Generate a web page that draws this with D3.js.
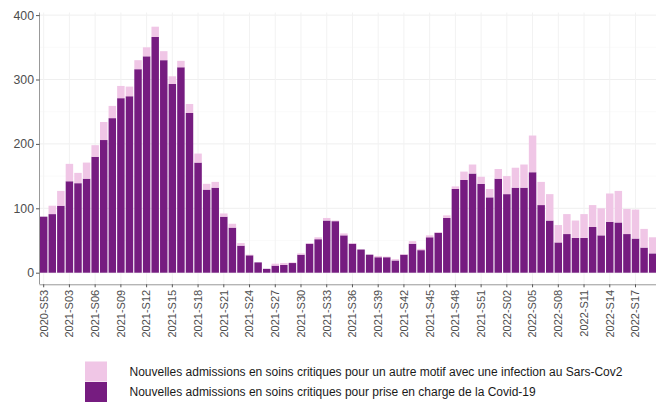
<!DOCTYPE html>
<html><head><meta charset="utf-8">
<script src="https://cdn.jsdelivr.net/npm/d3@7"></script>
<style>html,body{margin:0;padding:0;background:#fff;}svg{display:block;font-family:"Liberation Sans",Arial,sans-serif;}</style>
</head><body><svg id="c" width="656" height="403"></svg>
<script>
const weeks = ["2020-S53"].concat(
  d3.range(1,53).map(i=>"2021-S"+String(i).padStart(2,"0")),
  d3.range(1,20).map(i=>"2022-S"+String(i).padStart(2,"0")));
const covid = [87,91,104,142,139,146,180,206,240,271,274,316,336,366,330,293,319,248,171,129,132,87,70,42,
  27,16,6,11,12,15,28,45,52,81,80,58,45,36,28,24,24,19,28,45,35,55,62,85,130,144,154,138,117,
  146,122,132,132,156,105,81,47,60,54,54,71,58,79,78,60,53,39,30];
const other = [0,13,23,27,16,25,18,28,19,19,15,14,14,16,14,12,10,14,14,9,9,5,6,4,
  1,0,0,3,3,1,2,1,3,4,1,3,1,0,0,2,1,2,1,4,2,3,1,4,4,13,14,11,13,
  15,28,31,36,57,36,41,27,31,27,37,34,42,44,49,39,45,29,25];
const otherLabel = "Nouvelles admissions en soins critiques pour un autre motif avec une infection au Sars-Cov2";
const covidLabel = "Nouvelles admissions en soins critiques pour prise en charge de la Covid-19";
const yTicks = [0,100,200,300,400];
const tickWeeks = weeks.filter((d,i)=>i%3===0);
const colCovid = "#761c80", colOther = "#f0c6e6";

const svg = d3.select("#c");
const step = 8.577;
const x = d3.scaleBand().domain(weeks).range([39.4, 39.4+weeks.length*step]).paddingInner(0.13).paddingOuter(0.065);
const y = d3.scaleLinear().domain([0,400]).range([272.7,15.1]);
const yBottom = y(-18), yTop = y(404);

// gridlines
const g = svg.append("g");
g.selectAll(".hm").data(d3.range(50,400,100)).join("line")
  .attr("x1",39.5).attr("x2",656).attr("y1",d=>y(d)).attr("y2",d=>y(d)).attr("stroke","#f6f6f6").attr("stroke-width",0.6);
g.selectAll(".hM").data(yTicks).join("line")
  .attr("x1",39.5).attr("x2",656).attr("y1",d=>y(d)).attr("y2",d=>y(d)).attr("stroke","#efefef").attr("stroke-width",1);
g.selectAll(".v").data(tickWeeks).join("line")
  .attr("x1",d=>x(d)+x.bandwidth()/2).attr("x2",d=>x(d)+x.bandwidth()/2).attr("y1",yTop).attr("y2",yBottom).attr("stroke","#f2f2f2").attr("stroke-width",1);

// stacked bars
const data = weeks.map((w,i)=>({week:w, covid:covid[i], other:other[i]}));
const stack = d3.stack().keys(["covid","other"])(data);
const colors = {covid:colCovid, other:colOther};
svg.append("g").selectAll("g").data(stack).join("g").attr("fill",d=>colors[d.key])
  .selectAll("rect").data(d=>d).join("rect")
  .attr("x",d=>x(d.data.week)).attr("width",x.bandwidth())
  .attr("y",d=>y(d[1])).attr("height",d=>Math.max(0,y(d[0])-y(d[1])));

// y axis
const ya = svg.append("g").attr("transform","translate(39.5,0)")
  .call(d3.axisLeft(y).tickValues(yTicks).tickSize(3.5).tickPadding(2));
ya.select(".domain").attr("d",`M0,${yTop}V${yBottom}`).attr("stroke","#999");
ya.selectAll(".tick line").attr("stroke","#555");
ya.selectAll("text").attr("fill","#4d4d4d").attr("font-size",12.3).attr("font-family","Liberation Sans, Arial, sans-serif");

// x axis
const xa = svg.append("g").attr("transform",`translate(0,${yBottom})`)
  .call(d3.axisBottom(x).tickValues(tickWeeks).tickSize(3).tickPadding(2));
xa.select(".domain").attr("d",`M39.5,0.5H656`).attr("stroke","#999");
xa.selectAll(".tick line").attr("stroke","#555");
xa.selectAll("text").attr("fill","#4d4d4d").attr("font-size",11).attr("font-family","Liberation Sans, Arial, sans-serif")
  .attr("transform","rotate(-90)").attr("text-anchor","end").attr("x",-5.5).attr("y",0).attr("dy","0.35em");

// legend
const leg = svg.append("g");
const items = [{label:otherLabel, color:colOther},{label:covidLabel, color:colCovid}];
leg.selectAll("rect").data(items).join("rect")
  .attr("x",85).attr("y",(d,i)=>361.5+i*20.5).attr("width",22).attr("height",20).attr("fill",d=>d.color);
leg.selectAll("text").data(items).join("text")
  .attr("x",129.5).attr("y",(d,i)=>371.5+i*20.5).attr("dy","0.35em").attr("font-size",12).attr("fill","#1a1a1a")
  .text(d=>d.label);
</script></body></html>
